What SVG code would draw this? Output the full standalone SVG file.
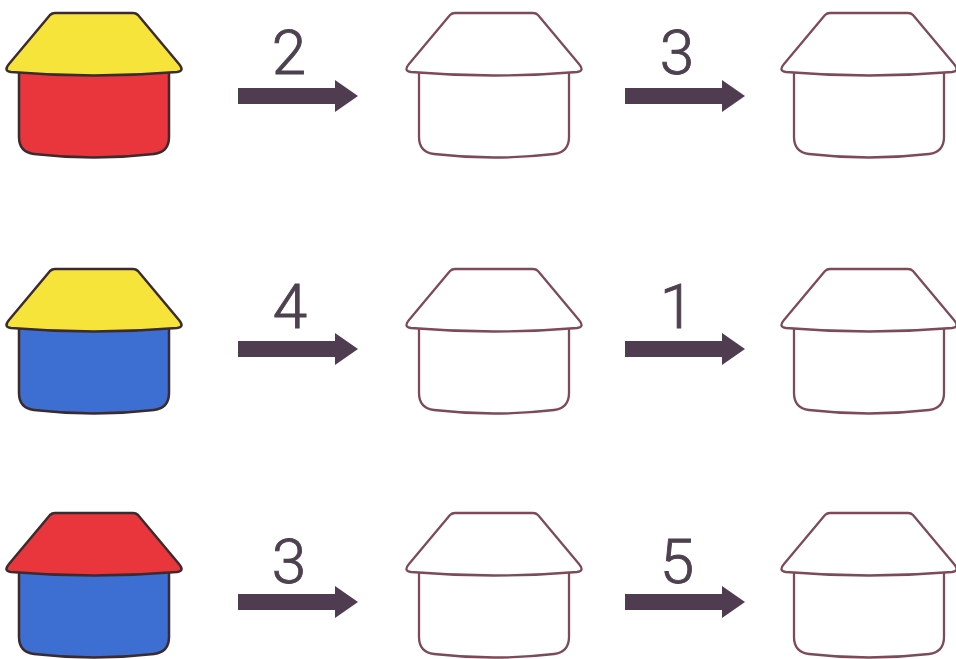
<svg xmlns="http://www.w3.org/2000/svg" xmlns:xlink="http://www.w3.org/1999/xlink" width="956" height="659" viewBox="0 0 956 659">
  <style>
    .solid { stroke: #3b2b2e; stroke-width: 2.5; stroke-linejoin: round; }
    .blank { fill: #ffffff; stroke: #7d4b57; stroke-width: 2.3; stroke-linejoin: round; }
    .yellow { fill: #f6e43a; }
    .red { fill: #e9353c; }
    .blue { fill: #3c6fd1; }
    .arrow { fill: #4f3c50; }
    .num { font-family: Roboto, "Liberation Sans", sans-serif; font-weight: 300; font-size: 62px; fill: #4d4150; stroke: #4d4150; stroke-width: 0.9; text-anchor: middle; }
  </style>
  <defs>
    <path id="body" d="M -75,56 L -75,124 Q -75,139 -60,141 Q 0,148 60,141 Q 75,139 75,124 L 75,56 Z"/>
    <path id="roof" d="M -39,0 L 39,0 Q 42,0 44,2 L 85,51 Q 91,58 83,59 Q 0,66 -83,59 Q -91,58 -85,51 L -44,2 Q -42,0 -39,0 Z"/>
    <path id="arr" d="M 0,-8 L 97,-8 L 97,-16 L 120,0 L 97,16 L 97,8 L 0,8 Z"/>
  </defs>
  <rect width="956" height="659" fill="#ffffff"/>

  <g id="house-r1-c1" transform="translate(94,13)">
    <use xlink:href="#body" class="solid red"/>
    <use xlink:href="#roof" class="solid yellow"/>
  </g>
  <g id="house-r1-c2" transform="translate(494,13)">
    <use xlink:href="#body" class="blank"/>
    <use xlink:href="#roof" class="blank"/>
  </g>
  <g id="house-r1-c3" transform="translate(869,13)">
    <use xlink:href="#body" class="blank"/>
    <use xlink:href="#roof" class="blank"/>
  </g>

  <g id="house-r2-c1" transform="translate(94,269)">
    <use xlink:href="#body" class="solid blue"/>
    <use xlink:href="#roof" class="solid yellow"/>
  </g>
  <g id="house-r2-c2" transform="translate(494,269)">
    <use xlink:href="#body" class="blank"/>
    <use xlink:href="#roof" class="blank"/>
  </g>
  <g id="house-r2-c3" transform="translate(869,269)">
    <use xlink:href="#body" class="blank"/>
    <use xlink:href="#roof" class="blank"/>
  </g>

  <g id="house-r3-c1" transform="translate(94,513)">
    <use xlink:href="#body" class="solid blue"/>
    <use xlink:href="#roof" class="solid red"/>
  </g>
  <g id="house-r3-c2" transform="translate(494,513)">
    <use xlink:href="#body" class="blank"/>
    <use xlink:href="#roof" class="blank"/>
  </g>
  <g id="house-r3-c3" transform="translate(869,513)">
    <use xlink:href="#body" class="blank"/>
    <use xlink:href="#roof" class="blank"/>
  </g>

  <g id="connectors">
    <use xlink:href="#arr" class="arrow" transform="translate(238,96)"/>
    <text class="num" x="289" y="74">2</text>
    <use xlink:href="#arr" class="arrow" transform="translate(625,96)"/>
    <text class="num" x="677" y="74">3</text>

    <use xlink:href="#arr" class="arrow" transform="translate(238,349)"/>
    <text class="num" x="290" y="328">4</text>
    <use xlink:href="#arr" class="arrow" transform="translate(625,349)"/>
    <text class="num" x="677" y="328">1</text>

    <use xlink:href="#arr" class="arrow" transform="translate(238,602)"/>
    <text class="num" x="289" y="583">3</text>
    <use xlink:href="#arr" class="arrow" transform="translate(625,602)"/>
    <text class="num" x="677" y="583">5</text>
  </g>
</svg>
